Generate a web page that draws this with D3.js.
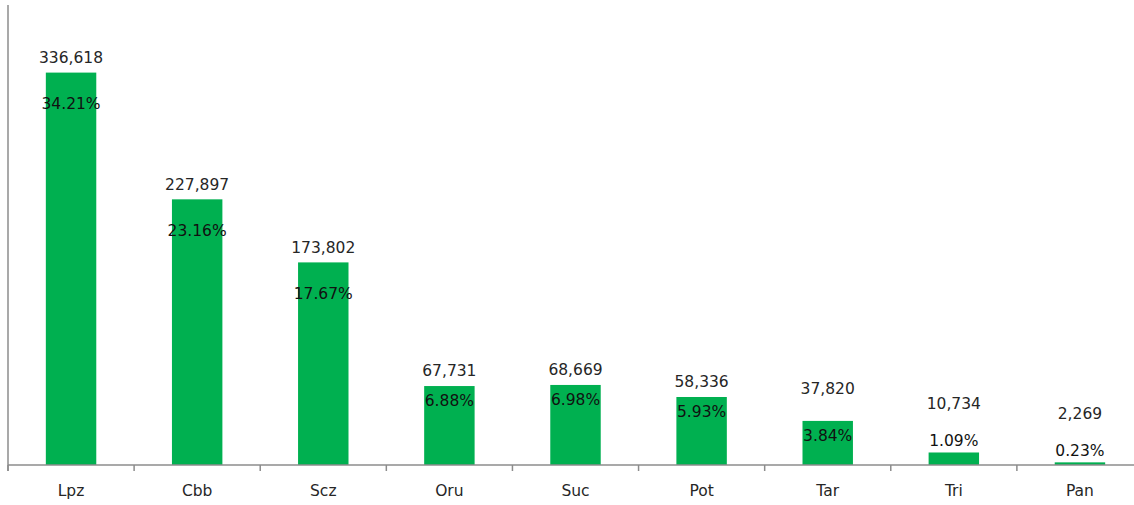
<!DOCTYPE html>
<html lang="en">
<head>
    <meta charset="UTF-8">
    <title>Bars by department</title>
    <script src="https://d3js.org/d3.v7.min.js"></script>
    <style>
        body { margin: 0; background: white; }
        svg { display: block; font-family: "DejaVu Sans", Verdana, sans-serif; }
        .axis { stroke: #8c8c8c; stroke-width: 1.5px; fill: none; }
        .bar { fill: #00b050; }
        .val { fill: #262626; font-size: 15.5px; }
        .pct { fill: #111; font-size: 15.5px; }
        .cat { fill: #262626; font-size: 15.5px; }
    </style>
</head>
<body>
<svg></svg>
<script>
const [width, height] = [1134, 505]

// data
const categories = ['Lpz', 'Cbb', 'Scz', 'Oru', 'Suc', 'Pot', 'Tar', 'Tri', 'Pan']
const values = [336618, 227897, 173802, 67731, 68669, 58336, 37820, 10734, 2269]
const shares = [34.21, 23.16, 17.67, 6.88, 6.98, 5.93, 3.84, 1.09, 0.23]

const svg = d3.select('svg').attr('width', width).attr('height', height)

// plot runs a bit past the right edge, like the original
const [x0, x1, y0, y1] = [8, 1143, 465, 57]

const x = d3.scaleBand().domain(categories).range([x0, x1])
    .paddingInner(0.6).paddingOuter(0.3)
const y = d3.scaleLinear().domain([0, 350000]).range([y0, y1])

const rows = categories.map((c, i) => ({c, v: values[i], p: shares[i]}))

// bars
svg.append('g').selectAll('rect').data(rows).join('rect')
    .attr('class', 'bar')
    .attr('x', d => x(d.c))
    .attr('width', x.bandwidth())
    .attr('y', d => y(d.v))
    .attr('height', d => y0 - y(d.v))

// axes: plain left line and bottom line with ticks between bands
svg.append('path').attr('class', 'axis')
    .attr('d', `M${x0} 5V${y0 + 6}`)
svg.append('path').attr('class', 'axis')
    .attr('d', `M${x0} ${y0}H${width}`)
const step = x.step()
svg.append('g').selectAll('path').data(d3.range(categories.length + 1)).join('path')
    .attr('class', 'axis')
    .attr('d', i => `M${x0 + i * step} ${y0}v6`)

svg.append('g').selectAll('text').data(categories).join('text')
    .attr('class', 'cat')
    .attr('text-anchor', 'middle')
    .attr('x', d => x(d) + x.bandwidth() / 2)
    .attr('y', 491).attr('dy', '0.35em')
    .text(d => d)

// label placement, roughly as in the original (hand-nudged labels)
const barH = d => y0 - y(d.v)
const pctY = d => {
    const t = y(d.v), h = barH(d)
    if (h > 100) return t + 31
    if (h > 30) return t + 15
    return t - 12
}
const valY = d => {
    const t = y(d.v), h = barH(d)
    return t - 15 - Math.min(34, Math.max(0, (60 - h) * 1.1))
}

const fmt = d3.format(',')
svg.append('g').selectAll('text').data(rows).join('text')
    .attr('class', 'val')
    .attr('text-anchor', 'middle')
    .attr('x', d => x(d.c) + x.bandwidth() / 2)
    .attr('y', valY).attr('dy', '0.35em')
    .text(d => fmt(d.v))

svg.append('g').selectAll('text').data(rows).join('text')
    .attr('class', 'pct')
    .attr('text-anchor', 'middle')
    .attr('x', d => x(d.c) + x.bandwidth() / 2)
    .attr('y', pctY).attr('dy', '0.35em')
    .text(d => d.p.toFixed(2) + '%')
</script>
</body>
</html>
